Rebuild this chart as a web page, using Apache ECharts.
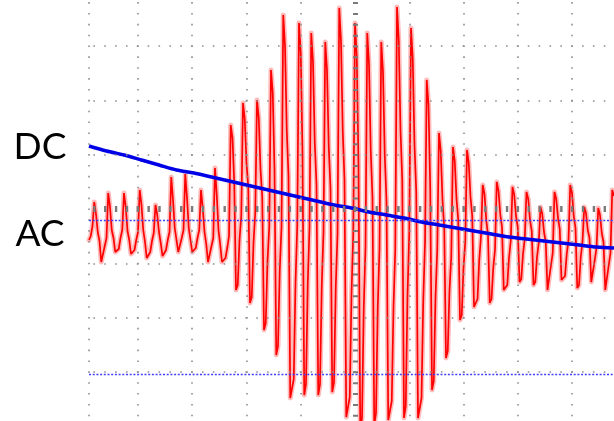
<!DOCTYPE html>
<html>
<head>
<meta charset="utf-8">
<script src="https://cdn.jsdelivr.net/npm/echarts@6/dist/echarts.min.js"></script>
<style>
  html, body { margin: 0; padding: 0; background: #ffffff; }
  #chart { width: 614px; height: 421px; }
</style>
</head>
<body>
<div id="chart"></div>
<script>
// Scope capture: x = sample index, y = trace level (screen-scaled, 0 = centre line).

// AC channel, quiet stretch before the burst
const acLead = [
  -31, -27, -17,
  7, -5, -23, -32, -53, -51, -37, -29,
  16, 2, -21, -29, -43, -43, -40, -29, -21,
  16, 2, -22, -31, -45, -44, -41, -31, -23,
  19, 4, -21, -33, -49, -48, -43, -32, -24,
  4, -6, -23, -34, -47, -46, -41, -31, -23,
  32, 9, -19, -31, -43, -41, -29, -21,
  35, 11, -19, -31, -43, -42, -39, -29, -21,
  19, 1, -23, -35, -53, -51, -37, -29,
  41, 14, -21, -36, -53, -53, -49, -39, -27
];

// AC channel, the burst
const acBurst = [
  84, 71, 26, -81, -76, -31, -7,
  106, 90, 46, 22, -94, -88, -34, -4,
  109, 91, 40, 12, -121, -114, -52, -18,
  139, 116, 39, -146, -137, -61, -18,
  194, 163, 79, 33, -189, -189, -170, -74, -17,
  186, 156, 56, -186, -175, -74, -19,
  176, 147, 67, 24, -186, -175, -77, -23,
  167, 139, 62, 20, -183, -173, -78, -25,
  201, 168, 78, 29, -208, -208, -188, -85, -24,
  186, 153, 44, -221, -209, -99, -38,
  176, 145, 58, 11, -216, -204, -98, -40,
  167, 137, 54, 8, -211, -211, -192, -98, -41,
  202, 169, 79, 29, -209, -197, -86, -24,
  181, 150, 64, 17, -209, -209, -189, -92, -34,
  129, 104, 20, -181, -172, -88, -41,
  76, 58, 9, -19, -149, -142, -81, -48,
  62, 48, 10, -11, -111, -106, -59, -33,
  59, 46, 12, -7, -98, -98, -90, -51, -27
];

// AC channel, settling tail
const acTail = [
  24, 15, -11, -26, -94, -90, -59, -41,
  27, 18, -5, -18, -81, -81, -76, -49, -32,
  22, 14, -7, -18, -73, -70, -45, -30,
  17, 10, -11, -22, -76, -73, -48, -34,
  2, -5, -23, -33, -81, -79, -56, -44,
  17, 10, -9, -20, -71, -71, -67, -45, -31,
  24, 16, -7, -19, -79, -76, -48, -33,
  2, -4, -21, -29, -73, -71, -51, -39,
  1, -6, -24, -33, -81, -79, -56, -44,
  19, 13
];

// DC channel, one reading every dcStep samples
const dcStep = 10;
const dcLevel = [
  63, 58, 54, 49, 44, 39, 36, 32, 28, 24, 20, 16, 12, 8, 4, 1,
  -3, -6, -9, -13, -16, -19, -22, -25, -28, -30, -32, -34, -36, -38, -39
];

// Cursor / reference levels (blue dotted)
const refLevels = [-11, -165];

// Channel names shown at the left
const channelNames = ['DC', 'AC'];
const channelLevels = [62, -25];

// Screen graticule geometry
const xMax = 300;
const yMin = -212, yMax = 209;
const centreSample = 152;
const divSamples = 31.03;
const divLevel = 54.3;

const acTrace = acLead.concat(acBurst, acTail).map((v, i) => [i, v]);
const dcTrace = dcLevel.map((v, k) => [k * dcStep, v]);

const dotColor = '#8e8e8e';
const dotPeriod = 10.86;
const dotStyleV = { color: dotColor, width: 1.6, type: [1.6, dotPeriod - 1.6], dashOffset: 6.2 };
const dotStyleH = { color: dotColor, width: 1.6, type: [1.6, dotPeriod - 1.6], dashOffset: 6.5 };

const gridLines = [];
gridLines.push({ xAxis: 0, lineStyle: dotStyleV });
for (let k = -4; k <= 4; k++) {
  if (k === 0) continue;
  gridLines.push({ xAxis: centreSample + k * divSamples, lineStyle: dotStyleV });
}
for (let k = -3; k <= 3; k++) {
  if (k === 0) continue;
  gridLines.push({ yAxis: k * divLevel, lineStyle: dotStyleH });
}
// centre axes carry tick marks at every minor division
gridLines.push({ xAxis: centreSample, lineStyle: { color: '#7a7a7a', width: 5, type: [2, dotPeriod - 2], dashOffset: 6.6 } });
gridLines.push({ yAxis: 0, lineStyle: { color: '#7a7a7a', width: 6, type: [2.4, dotPeriod - 2.4], dashOffset: 6.7 } });

const chart = echarts.init(document.getElementById('chart'), null, { renderer: 'canvas' });

chart.setOption({
  animation: false,
  backgroundColor: '#ffffff',
  grid: { left: 89, right: 0, top: 0, bottom: 0 },
  xAxis: { type: 'value', min: 0, max: xMax, show: false },
  yAxis: { type: 'value', min: yMin, max: yMax, show: false },
  series: [
    {
      name: 'graticule', type: 'line', data: [], silent: true,
      markLine: { silent: true, symbol: ['none', 'none'], label: { show: false }, data: gridLines }
    },
    {
      name: 'AC persistence', type: 'line', data: acTrace, showSymbol: false, silent: true,
      lineStyle: { color: 'rgba(255,40,40,0.32)', width: 5, join: 'round', cap: 'round' }
    },
    {
      name: 'AC', type: 'line', data: acTrace, showSymbol: false,
      lineStyle: { color: '#ff0000', width: 1.7 }
    },
    {
      name: 'cursors', type: 'line', data: [], silent: true,
      markLine: {
        silent: true, symbol: ['none', 'none'], label: { show: false },
        lineStyle: { color: '#3f3fff', width: 1.4, type: [2, 1.7] },
        data: refLevels.map(v => ({ yAxis: v }))
      }
    },
    {
      name: 'DC', type: 'line', data: dcTrace, showSymbol: false, smooth: 0.3,
      lineStyle: { color: '#0000e6', width: 3.5 }
    }
  ]
});

chart.setOption({
  graphic: channelNames.map((name, i) => ({
    type: 'text',
    x: 40,
    y: chart.convertToPixel({ gridIndex: 0 }, [0, channelLevels[i]])[1],
    style: {
      text: name,
      fill: '#000000',
      fontSize: 37,
      fontFamily: 'Lato',
      align: 'center',
      verticalAlign: 'middle'
    }
  }))
});
</script>
</body>
</html>
